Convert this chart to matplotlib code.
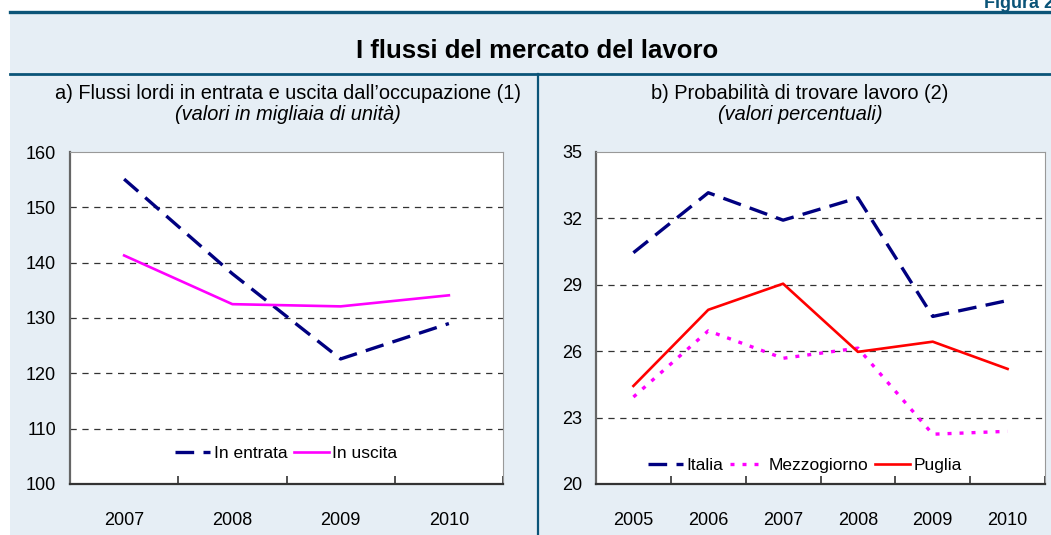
import numpy as np
import matplotlib
matplotlib.use("Agg")
import matplotlib.pyplot as plt
from matplotlib.patches import Rectangle
from matplotlib.lines import Line2D

plt.rcParams['font.family'] = ['Liberation Sans', 'DejaVu Sans']

# panel a) gross flows (thousands)
years_a = ['2007', '2008', '2009', '2010']
entrata = [155.1, 138.0, 122.6, 129.0]
uscita = [141.3, 132.5, 132.1, 134.1]

# panel b) job finding probability (%)
years_b = ['2005', '2006', '2007', '2008', '2009', '2010']
italia = [30.45, 33.16, 31.92, 32.93, 27.57, 28.29]
mezzogiorno = [23.93, 26.92, 25.68, 26.14, 22.25, 22.38]
puglia = [24.43, 27.87, 29.05, 25.97, 26.43, 25.2]

W, H = 1051, 535
BAND = '#e6eef5'
DARK = '#0b5478'
NAVY = '#000080'

fig = plt.figure(figsize=(W / 100, H / 100), dpi=100)
fig.patch.set_facecolor('white')

def fx(px):
    return px / W

def fy(py):
    return 1 - py / H

# background band and frame lines
fig.patches.append(Rectangle((fx(10), 0), 1 - fx(10), fy(12), transform=fig.transFigure,
                             facecolor=BAND, edgecolor='none', zorder=-5))
fig.add_artist(Line2D([fx(10), 1], [fy(12), fy(12)], color=DARK, lw=2.4))
fig.add_artist(Line2D([fx(10), 1], [fy(74), fy(74)], color=DARK, lw=2.0))
fig.add_artist(Line2D([fx(538), fx(538)], [0, fy(74)], color=DARK, lw=1.6))

fig.text(fx(984), fy(8), 'Figura 2.1', color=DARK, fontsize=13, fontweight='bold',
         ha='left', va='baseline')
fig.text(fx(537), fy(58), 'I flussi del mercato del lavoro', fontsize=18.5,
         fontweight='bold', ha='center', va='baseline')

fig.text(fx(288), fy(99), 'a) Flussi lordi in entrata e uscita dall\u2019occupazione (1)',
         fontsize=14.4, ha='center', va='baseline')
fig.text(fx(288), fy(120), '(valori in migliaia di unit\u00e0)', fontsize=14.4,
         style='italic', ha='center', va='baseline')
fig.text(fx(800), fy(99), 'b) Probabilit\u00e0 di trovare lavoro (2)',
         fontsize=14.4, ha='center', va='baseline')
fig.text(fx(800), fy(120), '(valori percentuali)', fontsize=14.4,
         style='italic', ha='center', va='baseline')


def style_axes(ax, ncat, yticks):
    ax.set_facecolor('white')
    ax.set_xlim(0, ncat)
    ax.set_ylim(yticks[0], yticks[-1])
    ax.set_yticks(yticks)
    ax.set_xticks(np.arange(ncat + 1))
    ax.set_xticklabels([])
    ax.set_xticks(np.arange(ncat) + 0.5, minor=True)
    ax.tick_params(axis='x', which='major', direction='in', length=6, width=1.2,
                   color='#333333')
    ax.tick_params(axis='x', which='minor', length=0, pad=20, labelsize=13)
    ax.tick_params(axis='y', length=0, pad=10, labelsize=13)
    for y in yticks[1:-1]:
        ax.axhline(y, color='#333333', lw=0.9, ls=(0, (5, 4.5)), zorder=1)
    ax.spines['left'].set_color('#666666')
    ax.spines['left'].set_linewidth(1.6)
    ax.spines['bottom'].set_color('#333333')
    ax.spines['bottom'].set_linewidth(1.6)
    ax.spines['top'].set_color('#999999')
    ax.spines['right'].set_color('#999999')


ax1 = fig.add_axes([fx(70), fy(484), fx(433), (484 - 152) / H])
style_axes(ax1, len(years_a), [100, 110, 120, 130, 140, 150, 160])
ax1.set_xticklabels(years_a, minor=True)
xa = np.arange(len(years_a)) + 0.5
ax1.plot(xa, entrata, color=NAVY, lw=2.4, ls=(0, (5.6, 2.8)), label='In entrata', zorder=3)
ax1.plot(xa, uscita, color='#ff00ff', lw=1.9, label='In uscita', zorder=3)
ax1.legend(loc='center', bbox_to_anchor=(0.5, 0.093), frameon=False, fontsize=12.5,
           handlelength=2.0, handletextpad=0.2, columnspacing=0.4, ncol=2,
           borderpad=0.1, borderaxespad=0)

ax2 = fig.add_axes([fx(596), fy(484), fx(449), (484 - 152) / H])
style_axes(ax2, len(years_b), [20, 23, 26, 29, 32, 35])
ax2.set_xticklabels(years_b, minor=True)
xb = np.arange(len(years_b)) + 0.5
ax2.plot(xb, italia, color=NAVY, lw=2.4, ls=(0, (5.6, 2.8)), label='Italia', zorder=3)
ax2.plot(xb, mezzogiorno, color='#ff00ff', lw=2.4, ls=(0, (1.2, 2.4)),
         label='Mezzogiorno', zorder=3)
ax2.plot(xb, puglia, color='#ff0000', lw=1.9, label='Puglia', zorder=3)
ax2.legend(loc='center', bbox_to_anchor=(0.465, 0.057), frameon=False, fontsize=12.5,
           handlelength=2.0, handletextpad=0.2, columnspacing=0.4, ncol=3,
           borderpad=0.1, borderaxespad=0)

fig.savefig('out.png', dpi=100, facecolor=fig.get_facecolor())
